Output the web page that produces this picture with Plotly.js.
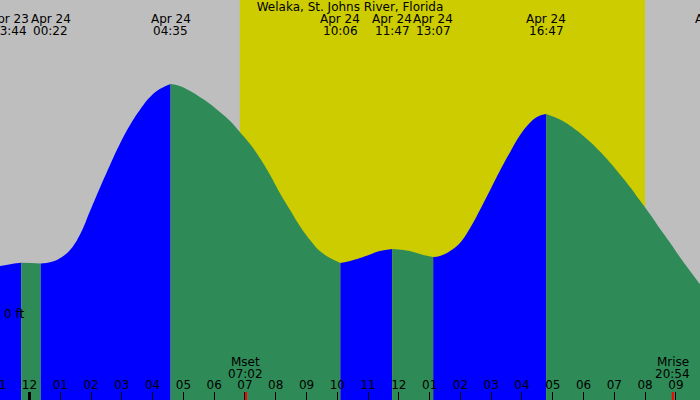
<!DOCTYPE html>
<html>
<head>
<meta charset="utf-8">
<script src="https://cdn.plot.ly/plotly-3.0.1.min.js"></script>
<style>html,body{margin:0;padding:0;background:#BEBEBE;}#chart{width:700px;height:400px;}</style>
</head>
<body>
<div id="chart"></div>
<script>
// ---- data ----
const titleText = 'Welaka, St. Johns River, Florida';
// tide curve samples (time, height in ft)
const sampleTimes = [
  '2024-04-23 23:02','2024-04-23 23:20','2024-04-23 23:44','2024-04-24 00:03',
  '2024-04-24 00:22','2024-04-24 00:42','2024-04-24 01:00','2024-04-24 01:19',
  '2024-04-24 01:39','2024-04-24 01:58','2024-04-24 02:18','2024-04-24 02:37',
  '2024-04-24 02:56','2024-04-24 03:16','2024-04-24 03:35','2024-04-24 03:55',
  '2024-04-24 04:14','2024-04-24 04:35','2024-04-24 04:53','2024-04-24 05:13',
  '2024-04-24 05:32','2024-04-24 05:52','2024-04-24 06:11','2024-04-24 06:31',
  '2024-04-24 06:50','2024-04-24 07:10','2024-04-24 07:29','2024-04-24 07:49',
  '2024-04-24 08:08','2024-04-24 08:28','2024-04-24 08:47','2024-04-24 09:07',
  '2024-04-24 09:26','2024-04-24 09:46','2024-04-24 10:06','2024-04-24 10:25',
  '2024-04-24 10:44','2024-04-24 11:04','2024-04-24 11:23','2024-04-24 11:47',
  '2024-04-24 12:09','2024-04-24 12:28','2024-04-24 12:48','2024-04-24 13:07',
  '2024-04-24 13:20','2024-04-24 13:40','2024-04-24 13:59','2024-04-24 14:19',
  '2024-04-24 14:38','2024-04-24 14:58','2024-04-24 15:17','2024-04-24 15:37',
  '2024-04-24 15:56','2024-04-24 16:16','2024-04-24 16:31','2024-04-24 16:47',
  '2024-04-24 17:14','2024-04-24 17:40','2024-04-24 18:07','2024-04-24 18:33',
  '2024-04-24 18:52','2024-04-24 19:11','2024-04-24 19:31','2024-04-24 19:50',
  '2024-04-24 20:10','2024-04-24 20:29','2024-04-24 20:49','2024-04-24 21:08',
  '2024-04-24 21:28','2024-04-24 21:48'
];
const sampleHeights = [
  0.120,0.124,0.128,0.1275,
  0.126,0.130,0.140,0.160,
  0.200,0.2575,0.3175,0.3725,
  0.425,0.4725,0.510,0.5425,
  0.5625,0.575,0.570,0.5575,
  0.5425,0.525,0.505,0.4825,
  0.455,0.425,0.390,0.3475,
  0.3025,0.260,0.220,0.185,
  0.1575,0.140,0.1275,0.1325,
  0.140,0.149,0.1575,0.1625,
  0.160,0.155,0.1475,0.1425,
  0.145,0.1575,0.1775,0.215,
  0.260,0.310,0.358,0.405,
  0.447,0.479,0.494,0.500,
  0.486,0.465,0.437,0.405,
  0.378,0.349,0.317,0.2835,
  0.2485,0.213,0.1775,0.142,
  0.107,0.0725
];
// high / low tide events
const extremeTimes = ['2024-04-23 23:44','2024-04-24 00:22','2024-04-24 04:35','2024-04-24 10:06','2024-04-24 11:47','2024-04-24 13:07','2024-04-24 16:47','2024-04-24 22:16'];
const extremeDates = ['Apr 23','Apr 24','Apr 24','Apr 24','Apr 24','Apr 24','Apr 24','Apr 24'];
const extremeClock = ['23:44','00:22','04:35','10:06','11:47','13:07','16:47','22:16'];
// sun and moon
const sunrise = '2024-04-24 06:50';
const sunset = '2024-04-24 20:00';
const moonEvents = ['Mset','Mrise'];
const moonTimes = ['2024-04-24 07:02','2024-04-24 20:54'];
const moonClock = ['07:02','20:54'];
const yTickVals = [0];
const yTickText = ['0 ft'];

// ---- layout constants ----
const xStart = '2024-04-23 23:02:30', xEnd = '2024-04-24 21:47:00';
const yRange = [-0.215, 0.785];
const FONT = 'DejaVu Sans, sans-serif';
const FS = 12;
const BLUE = '#0000FF', GREEN = '#2E8B57', GREY = '#BEBEBE', YELLOW = '#CCCC00';

const ms = s => Date.parse(s.replace(' ', 'T') + 'Z');
const t0 = ms(xStart), t1 = ms(xEnd);
const toPaper = s => (ms(s) - t0) / (t1 - t0);

// split samples into rising / falling segments between extremes
const firstT = ms(sampleTimes[0]), lastT = ms(sampleTimes[sampleTimes.length-1]);
const bounds = [sampleTimes[0]].concat(extremeTimes.filter(t => ms(t) > firstT && ms(t) < lastT)).concat([sampleTimes[sampleTimes.length-1]]);
const traces = [];
for (let i = 0; i < bounds.length - 1; i++) {
  const a = ms(bounds[i]), b = ms(bounds[i+1]);
  const xs = [], ys = [];
  sampleTimes.forEach((t, k) => { const m = ms(t); if (m >= a && m <= b) { xs.push(t); ys.push(sampleHeights[k]); } });
  const rising = ys[ys.length-1] > ys[0];
  traces.push({x: xs, y: xs.map(() => yRange[0]), mode: 'lines', line: {width: 0}, hoverinfo: 'skip', showlegend: false});
  traces.push({x: xs, y: ys, mode: 'lines', line: {width: 0, shape: 'spline', smoothing: 1.2}, fill: 'tonexty', fillcolor: rising ? BLUE : GREEN, showlegend: false});
}

const annotations = [];
const dateShifts = [-12, 10, 0, 0, 0, 0, 0, 0];
const clockShifts = [-12, 10, 0, 0, 0, 0, 0, 3];
const txtFont = {family: FONT, size: FS, color: '#000'};
extremeTimes.forEach((t, i) => {
  const common = {xref: 'paper', x: toPaper(t), yref: 'paper', showarrow: false, xanchor: 'center', yanchor: 'middle', font: txtFont};
  annotations.push(Object.assign({}, common, {y: 1 - 19/400, text: extremeDates[i], xshift: dateShifts[i]}));
  annotations.push(Object.assign({}, common, {y: 1 - 31/400, text: extremeClock[i], xshift: clockShifts[i]}));
});
moonEvents.forEach((e, i) => {
  const common = {xref: 'x', x: moonTimes[i], yref: 'paper', showarrow: false, xanchor: 'center', yanchor: 'middle', font: txtFont};
  annotations.push(Object.assign({}, common, {y: 1 - 362/400, text: e}));
  annotations.push(Object.assign({}, common, {y: 1 - 374/400, text: moonClock[i]}));
});
// hour label of the tick just left of the window
annotations.push({xref: 'paper', x: toPaper('2024-04-23 23:00'), yref: 'paper', y: 1 - 385/400, text: '11', showarrow: false, xanchor: 'center', yanchor: 'middle', font: txtFont});
// y label "0 ft"
annotations.push({xref: 'paper', x: 0, xshift: 2, yref: 'y', y: yTickVals[0], text: yTickText[0], showarrow: false, xanchor: 'left', yanchor: 'middle', font: txtFont});

const shapes = [
  {type: 'rect', xref: 'x', yref: 'paper', x0: sunrise, x1: sunset, y0: 0, y1: 1, fillcolor: YELLOW, line: {width: 0}, layer: 'below'},
  {type: 'line', xref: 'x', yref: 'paper', x0: '2024-04-24 00:00', x1: '2024-04-24 00:00', y0: 0, y1: 0.02, line: {color: '#000', width: 3}, layer: 'above'}
];
moonTimes.forEach(t => shapes.push({type: 'line', xref: 'x', yref: 'paper', x0: t, x1: t, y0: 0, y1: 0.02, line: {color: '#FF0000', width: 2}, layer: 'above'}));

const layout = {
  width: 700, height: 400,
  margin: {l: 0, r: 0, t: 0, b: 0, pad: 0},
  paper_bgcolor: GREY, plot_bgcolor: GREY,
  showlegend: false,
  font: txtFont,
  title: {text: titleText, x: 0.5, xref: 'paper', y: 1 - 7/400, yref: 'container', xanchor: 'center', yanchor: 'middle', font: txtFont},
  xaxis: {type: 'date', range: [xStart, xEnd], tick0: '2024-04-24 00:00', dtick: 3600000, tickformat: '%I',
          ticks: 'inside', ticklen: 8, tickwidth: 1, tickcolor: '#000', ticklabelposition: 'inside',
          showgrid: false, zeroline: false, showline: false, fixedrange: true, tickfont: txtFont},
  yaxis: {range: yRange, showticklabels: false, ticks: '',
          showgrid: false, zeroline: false, showline: false, fixedrange: true},
  shapes: shapes,
  annotations: annotations
};

Plotly.newPlot('chart', traces, layout, {displayModeBar: false, staticPlot: true});
</script>
</body>
</html>
